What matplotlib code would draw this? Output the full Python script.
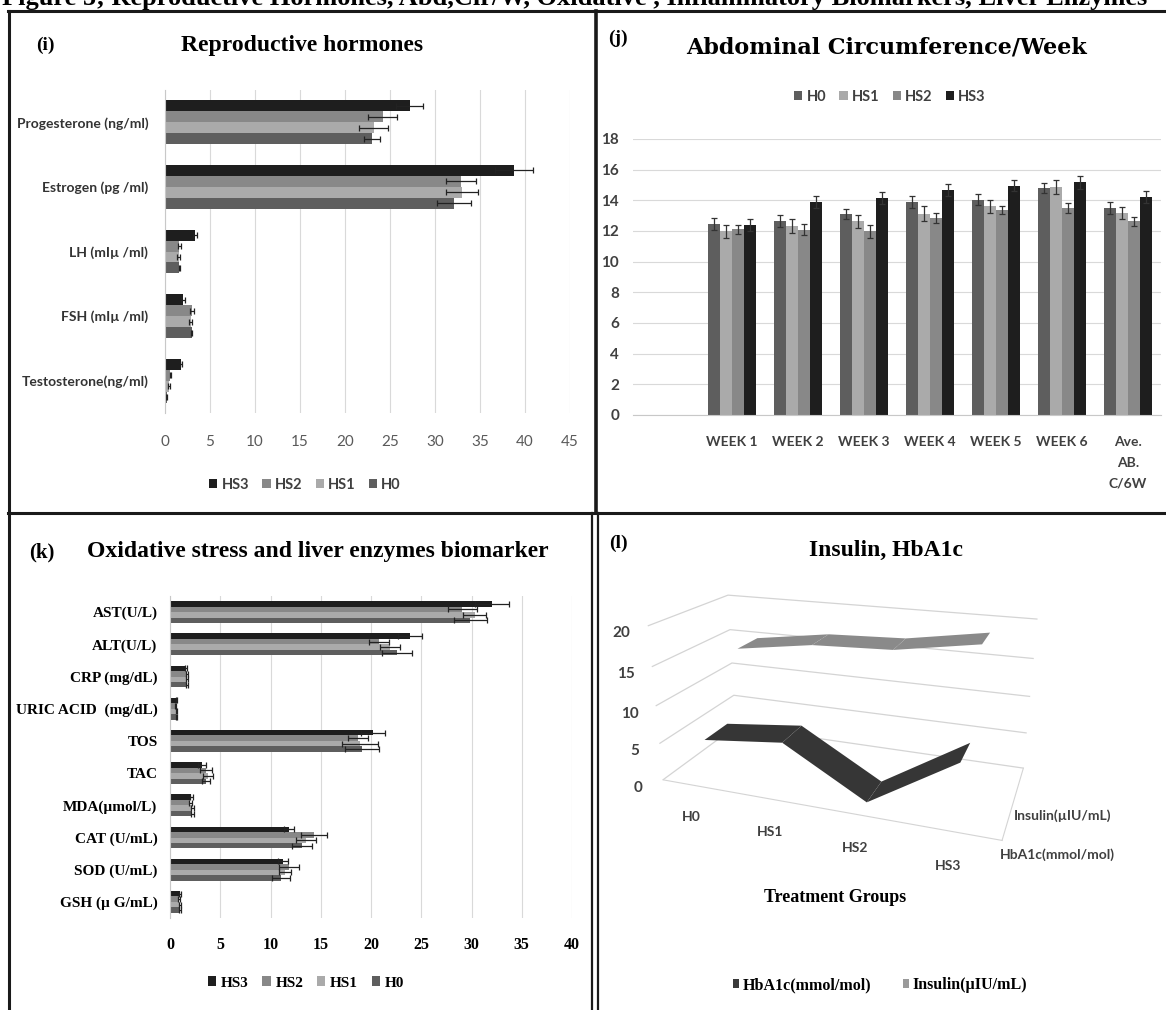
import numpy as np
import matplotlib.pyplot as plt
from matplotlib.patches import Patch
from matplotlib.lines import Line2D

W, H = 1166, 1010

# ---- (i) reproductive hormones ----
hormones = ["Progesterone (ng/ml)", "Estrogen (pg /ml)", "LH (mIµ /ml)",
            "FSH (mIµ /ml)", "Testosterone(ng/ml)"]
horm_hs3 = [27.2, 38.8, 3.3, 2.0, 1.75]
horm_hs2 = [24.2, 32.9, 1.6, 3.0, 0.6]
horm_hs1 = [23.2, 33.0, 1.5, 2.85, 0.4]
horm_h0 = [23.0, 32.1, 1.6, 2.95, 0.2]
horm_hs3_err = [1.5, 2.1, 0.2, 0.2, 0.1]
horm_hs2_err = [1.6, 1.7, 0.2, 0.2, 0.1]
horm_hs1_err = [1.6, 1.8, 0.2, 0.2, 0.1]
horm_h0_err = [0.9, 1.9, 0.1, 0.1, 0.05]

# ---- (j) abdominal circumference per week ----
weeks = ["WEEK 1", "WEEK 2", "WEEK 3", "WEEK 4", "WEEK 5", "WEEK 6", "Ave.\nAB.\nC/6W"]
abd_h0 = [12.45, 12.67, 13.1, 13.87, 14.04, 14.8, 13.5]
abd_hs1 = [11.97, 12.3, 12.62, 13.13, 13.6, 14.87, 13.17]
abd_hs2 = [12.12, 12.08, 11.97, 12.84, 13.39, 13.5, 12.63]
abd_hs3 = [12.4, 13.87, 14.15, 14.69, 14.95, 15.17, 14.21]
abd_h0_err = [0.38, 0.4, 0.35, 0.38, 0.35, 0.35, 0.38]
abd_hs1_err = [0.42, 0.45, 0.45, 0.5, 0.45, 0.45, 0.42]
abd_hs2_err = [0.3, 0.35, 0.4, 0.35, 0.25, 0.3, 0.3]
abd_hs3_err = [0.38, 0.4, 0.38, 0.38, 0.35, 0.4, 0.38]

# ---- (k) oxidative stress and liver enzymes ----
markers = ["AST(U/L)", "ALT(U/L)", "CRP (mg/dL)", "URIC ACID  (mg/dL)", "TOS", "TAC",
           "MDA(µmol/L)", "CAT (U/mL)", "SOD (U/mL)", "GSH (µ G/mL)"]
ox_hs3 = [32.0, 23.9, 1.55, 0.6, 20.2, 3.2, 2.1, 11.8, 11.2, 1.0]
ox_hs2 = [29.1, 20.8, 1.65, 0.55, 18.7, 3.6, 2.0, 14.3, 11.8, 0.9]
ox_hs1 = [30.3, 21.9, 1.65, 0.6, 18.9, 3.8, 2.2, 13.5, 11.4, 1.0]
ox_h0 = [29.9, 22.6, 1.7, 0.62, 19.1, 3.6, 2.2, 13.1, 11.0, 1.0]
ox_hs3_err = [1.7, 1.2, 0.1, 0.05, 1.2, 0.4, 0.15, 0.5, 0.5, 0.1]
ox_hs2_err = [1.4, 1.0, 0.1, 0.05, 1.0, 0.6, 0.15, 1.3, 1.0, 0.1]
ox_hs1_err = [1.1, 1.0, 0.1, 0.05, 1.8, 0.5, 0.15, 1.0, 0.6, 0.1]
ox_h0_err = [1.6, 1.5, 0.1, 0.05, 1.7, 0.4, 0.15, 1.0, 0.9, 0.1]

# ---- (l) insulin, HbA1c ----
treatments = ["H0", "HS1", "HS2", "HS3"]
hba1c = [5.5, 6.7, 0.7, 7.5]
insulin = [14.7, 16.2, 16.6, 18.3]

colors = {"H0": "#5e5e5e", "HS1": "#aaaaaa", "HS2": "#888888", "HS3": "#1e1e1e"}

SANS = "Lato"
SERIF = "Liberation Serif"


def rect(l, t, r, b):
    return [l / W, 1 - b / H, (r - l) / W, (b - t) / H]


def ftext(x, y, s, **kw):
    fig.text(x / W, 1 - y / H, s, **kw)


def square_legend(ax, names, x, y, **kw):
    handles = [Patch(facecolor=colors[n], edgecolor="none", label=n) for n in names]
    ax.legend(handles=handles, ncol=len(names), loc="center",
              bbox_to_anchor=(x / W, 1 - y / H), bbox_transform=fig.transFigure,
              frameon=False, handlelength=0.55, handleheight=0.55, handletextpad=0.3,
              columnspacing=0.9, **kw)


def grouped_barh(ax, cats, vals, errs, names, h):
    y = np.arange(len(cats))
    for k, name in enumerate(names):
        off = (k - (len(names) - 1) / 2) * h
        ax.barh(y + off, vals[k], height=h, color=colors[name], xerr=errs[k],
                error_kw=dict(ecolor="#222222", elinewidth=0.9, capsize=2.2, capthick=0.9))
    ax.set_yticks(y, cats)
    ax.set_ylim(len(cats) - 0.5, -0.5)
    ax.tick_params(length=0)
    ax.set_axisbelow(True)
    ax.xaxis.grid(True, color="#d9d9d9", lw=0.8)
    for s in ("top", "right", "bottom"):
        ax.spines[s].set_visible(False)
    ax.spines["left"].set_color("#c8c8c8")


fig = plt.figure(figsize=(W / 100, H / 100), dpi=100)

# figure caption, partly cut off by the top edge
ftext(2, 5, "Figure 5; Reproductive Hormones, Abd,Cir/W, Oxidative , Inflammatory "
      "Biomarkers, Liver Enzymes", fontsize=19, weight="bold", family=SERIF, va="baseline")

# panel frames
for (x0, y0, x1, y1, lw) in [(8, 11, W, 11, 2.2), (9, 11, 9, H, 2.2), (596, 11, 596, 513, 2.6),
                             (8, 513, W, 513, 2.2), (592, 513, 592, H, 1.6), (598, 513, 598, H, 1.6)]:
    fig.add_artist(Line2D([x0 / W, x1 / W], [1 - y0 / H, 1 - y1 / H], color="#1a1a1a",
                          lw=lw, transform=fig.transFigure))

# (i)
order_rev = ["HS3", "HS2", "HS1", "H0"]
ax1 = fig.add_axes(rect(165, 90, 570, 413))
grouped_barh(ax1, hormones, [horm_hs3, horm_hs2, horm_hs1, horm_h0],
             [horm_hs3_err, horm_hs2_err, horm_hs1_err, horm_h0_err], order_rev, 0.17)
ax1.set_xlim(0, 45)
ax1.set_xticks(np.arange(0, 46, 5))
ax1.tick_params(axis="x", pad=16, labelsize=11, labelcolor="#5a5a5a")
ax1.tick_params(axis="y", pad=12, labelsize=10, labelcolor="#333333")
for t in ax1.get_xticklabels() + ax1.get_yticklabels():
    t.set_family(SANS)
for t in ax1.get_yticklabels():
    t.set_weight("bold")
square_legend(ax1, order_rev, 305, 485, prop=dict(family=SANS, size=10.5, weight="bold"))
for t in ax1.get_legend().get_texts():
    t.set_color("#404040")
ftext(45, 45, "(i)", fontsize=14, weight="bold", family=SERIF, ha="center", va="center")
ftext(302, 45, "Reproductive hormones", fontsize=17, weight="bold", family=SERIF,
      ha="center", va="center")

# (j)
ax2 = fig.add_axes(rect(633, 139, 1161, 415))
xw = np.arange(len(weeks))
bw = 0.18
for k, (name, vals, err) in enumerate([("H0", abd_h0, abd_h0_err), ("HS1", abd_hs1, abd_hs1_err),
                                       ("HS2", abd_hs2, abd_hs2_err), ("HS3", abd_hs3, abd_hs3_err)]):
    ax2.bar(xw + (k - 1.5) * bw, vals, width=bw, color=colors[name], yerr=err,
            error_kw=dict(ecolor="#333333", elinewidth=0.9, capsize=2.5, capthick=0.9))
ax2.set_xlim(-1.5, len(weeks) - 0.5)
ax2.set_ylim(0, 18)
ax2.set_yticks(np.arange(0, 19, 2))
ax2.set_xticks(xw, weeks)
ax2.set_axisbelow(True)
ax2.yaxis.grid(True, color="#d9d9d9", lw=0.8)
for s in ("top", "right", "left"):
    ax2.spines[s].set_visible(False)
ax2.spines["bottom"].set_color("#c8c8c8")
ax2.tick_params(length=0)
ax2.tick_params(axis="y", pad=10, labelsize=11, labelcolor="#404040")
ax2.tick_params(axis="x", pad=15, labelsize=10, labelcolor="#404040")
for t in ax2.get_xticklabels() + ax2.get_yticklabels():
    t.set_family(SANS)
    t.set_weight("bold")
for t in ax2.get_xticklabels():
    t.set_linespacing(1.9)
    t.set_va("top")
square_legend(ax2, ["H0", "HS1", "HS2", "HS3"], 890, 97,
              prop=dict(family=SANS, size=10.5, weight="bold"))
for t in ax2.get_legend().get_texts():
    t.set_color("#404040")
ftext(618, 38, "(j)", fontsize=14, weight="bold", family=SERIF, ha="center", va="center")
ftext(887, 47, "Abdominal Circumference/Week", fontsize=16, weight="bold",
      family="DejaVu Serif", ha="center", va="center")

# (k)
ax3 = fig.add_axes(rect(170, 596, 572, 918))
grouped_barh(ax3, markers, [ox_hs3, ox_hs2, ox_hs1, ox_h0],
             [ox_hs3_err, ox_hs2_err, ox_hs1_err, ox_h0_err], order_rev, 0.17)
ax3.set_xlim(0, 40)
ax3.set_xticks(np.arange(0, 41, 5))
ax3.tick_params(axis="x", pad=14, labelsize=11.5)
ax3.tick_params(axis="y", pad=9, labelsize=11)
for t in ax3.get_xticklabels() + ax3.get_yticklabels():
    t.set_family(SERIF)
    t.set_weight("bold")
square_legend(ax3, order_rev, 306, 983, prop=dict(family=SERIF, size=11, weight="bold"))
ftext(42, 552, "(k)", fontsize=15, weight="bold", family=SERIF, ha="center", va="center")
ftext(318, 552, "Oxidative stress and liver enzymes biomarker", fontsize=17, weight="bold",
      family=SERIF, ha="center", va="center")

# (l) 3-D ribbon lines, perspective view
ax4 = fig.add_axes(rect(592, 543, 1092, 868), projection="3d")
ax4.set_facecolor("none")
xs = np.arange(len(treatments))
for d, (vals, col) in enumerate([(hba1c, "#363636"), (insulin, "#8a8a8a")]):
    X = np.vstack([xs, xs])
    Y = np.array([[d - 0.3] * len(xs), [d + 0.3] * len(xs)])
    Z = np.vstack([vals, vals])
    ax4.plot_surface(X, Y, Z, color=col, shade=False, linewidth=0, antialiased=True)
ax4.set_xlim(-0.5, 3.5)
ax4.set_ylim(-0.5, 1.5)
ax4.set_zlim(0, 20)
ax4.set_xticks(xs, treatments)
ax4.set_yticks([0, 1], ["HbA1c(mmol/mol)", "Insulin(µIU/mL)"])
ax4.set_zticks([0, 5, 10, 15, 20])
ax4.set_proj_type("persp", focal_length=0.4)
ax4.view_init(elev=20, azim=-70)
ax4.set_box_aspect((1, 0.45, 0.47), zoom=1.22)
ax4.zaxis.set_ticks_position("lower")
for axis in (ax4.xaxis, ax4.yaxis, ax4.zaxis):
    axis.set_pane_color((1, 1, 1, 0))
    axis.pane.set_edgecolor((1, 1, 1, 0))
    axis._axinfo["tick"]["inward_factor"] = 0
    axis._axinfo["tick"]["outward_factor"] = 0
ax4.xaxis._axinfo["grid"]["color"] = (1, 1, 1, 0)
ax4.yaxis._axinfo["grid"]["color"] = (1, 1, 1, 0)
ax4.zaxis._axinfo["grid"]["color"] = "#d4d4d4"
ax4.zaxis._axinfo["grid"]["linewidth"] = 0.9
ax4.xaxis.line.set_color("#d4d4d4")
ax4.yaxis.line.set_color("#d4d4d4")
ax4.zaxis.line.set_color((1, 1, 1, 0))
ax4.tick_params(axis="x", labelsize=10, labelcolor="#404040", pad=6)
ax4.tick_params(axis="y", labelsize=10, labelcolor="#404040", pad=8)
ax4.tick_params(axis="z", labelsize=11, labelcolor="#404040", pad=0)
for t in ax4.get_xticklabels() + ax4.get_yticklabels() + ax4.get_zticklabels():
    t.set_family(SANS)
    t.set_weight("bold")
ftext(835, 897, "Treatment Groups", fontsize=13, weight="bold", family=SERIF,
      ha="center", va="center")
handles = [Patch(facecolor="#3a3a3a", label="HbA1c(mmol/mol)"),
           Patch(facecolor="#9a9a9a", label="Insulin(µIU/mL)")]
ax4.legend(handles=handles, ncol=2, loc="center", bbox_to_anchor=(880 / W, 1 - 985 / H),
           bbox_transform=fig.transFigure, frameon=False, handlelength=0.4, handleheight=0.55,
           handletextpad=0.2, columnspacing=2.0, prop=dict(family=SERIF, size=11.5, weight="bold"))
ftext(618, 543, "(l)", fontsize=14, weight="bold", family=SERIF, ha="center", va="center")
ftext(886, 550, "Insulin, HbA1c", fontsize=17, weight="bold", family=SERIF,
      ha="center", va="center")

fig.savefig("out.png", dpi=100, facecolor="white")
